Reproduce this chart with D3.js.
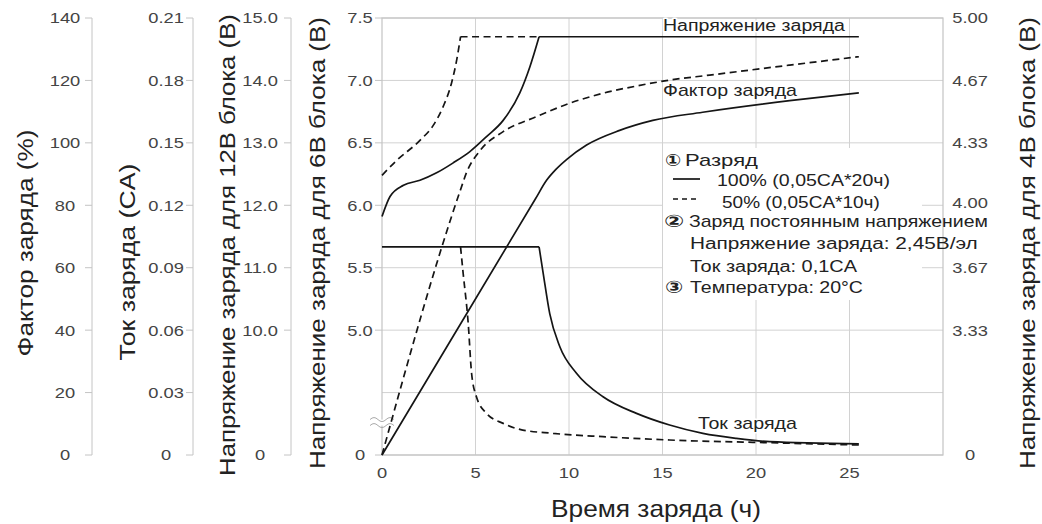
<!DOCTYPE html>
<html><head><meta charset="utf-8">
<script src="https://cdn.jsdelivr.net/npm/d3@7"></script>
<style>
body{margin:0;background:#fff}
svg{display:block}
text{font-family:"Liberation Sans",Arial,Helvetica,sans-serif;fill:#222}
</style>
</head><body>
<svg id="c" width="1042" height="524"></svg>
<script>
// ---------------- data ----------------
const timeTicks = [0, 5, 10, 15, 20, 25];
const factorTicks = [0, 20, 40, 60, 80, 100, 120, 140];
const currentTicks = [0, 0.03, 0.06, 0.09, 0.12, 0.15, 0.18, 0.21];
const currentTickLabels = ["0", "0.03", "0.06", "0.09", "0.12", "0.15", "0.18", "0.21"];
const v12Ticks = [0, 10, 11, 12, 13, 14, 15];
const v12TickLabels = ["0", "10.0", "11.0", "12.0", "13.0", "14.0", "15.0"];
const v6Ticks = [0, 5.0, 5.5, 6.0, 6.5, 7.0, 7.5];
const v6TickLabels = ["0", "5.0", "5.5", "6.0", "6.5", "7.0", "7.5"];
const v4Ticks = [0, 10 / 3, 11 / 3, 4, 13 / 3, 14 / 3, 5];
const v4TickLabels = ["0", "3.33", "3.67", "4.00", "4.33", "4.67", "5.00"];

const chargeVoltage = 7.35;   // 6V block, 2.45 V/cell
const chargeCurrent = 0.1;    // CA
const endHour = 25.5;

// charge voltage (6V block), rising part
const voltFullHours = [0, 0.43, 1.15, 2.03, 2.92, 3.81, 4.70, 5.59, 6.48, 7.37, 7.91, 8.40];
const voltFullValues = [5.91, 6.07, 6.16, 6.20, 6.26, 6.34, 6.43, 6.55, 6.68, 6.90, 7.11, 7.35];
const voltHalfHours = [0, 0.79, 2.03, 2.74, 3.27, 3.72, 3.99, 4.20];
const voltHalfValues = [6.24, 6.36, 6.52, 6.64, 6.79, 6.98, 7.16, 7.35];

// charge factor (%)
const factorFullHours = [0, 8.2, 8.8, 9.3, 9.9, 10.94, 12.71, 14.48, 17.15, 21.8, 25.5];
const factorFullValues = [0, 82.0, 88.0, 91.5, 94.8, 99.3, 104.0, 107.2, 109.8, 113.5, 116.0];
const factorHalfHours = [0, 4.2, 4.52, 5.24, 6.48, 8.26, 10.04, 11.82, 13.6, 15.38, 17.52, 21.8, 25.5];
const factorHalfValues = [0, 85.0, 90.5, 97.5, 103.6, 108.4, 112.7, 115.9, 118.2, 120.1, 121.7, 124.9, 127.6];

// charge current (CA), decay part after constant current phase
const currentFullHours = [8.4, 8.62, 8.97, 9.51, 10.40, 11.82, 13.61, 15.38, 17.16, 18.95, 20.73, 25.5];
const currentFullValues = [0.1, 0.0873, 0.0679, 0.052, 0.0393, 0.028, 0.020, 0.0144, 0.0104, 0.008, 0.0064, 0.0053];
const currentHalfHours = [4.2, 4.34, 4.61, 4.79, 5.05, 5.59, 6.48, 7.37, 9.15, 11.82, 15.38, 20.73, 25.5];
const currentHalfValues = [0.1, 0.0873, 0.0633, 0.0393, 0.028, 0.020, 0.0152, 0.0123, 0.0104, 0.0088, 0.0072, 0.0059, 0.0048];

// ---------------- layout ----------------
const svg = d3.select('#c');
const X0 = 382, X1 = 943, Y0 = 455, Y1 = 18;
const x = d3.scaleLinear().domain([0, 30]).range([X0, X1]);
const yF = d3.scaleLinear().domain([0, 140]).range([Y0, Y1]);
const yI = d3.scaleLinear().domain([0, 0.21]).range([Y0, Y1]);
const yB = yF(40);
const yV12 = d3.scaleLinear().domain([0, 10, 15]).range([Y0, yB, Y1]);
const yV6 = d3.scaleLinear().domain([0, 5, 7.5]).range([Y0, yB, Y1]);
const yV4 = d3.scaleLinear().domain([0, 10 / 3, 5]).range([Y0, yB, Y1]);

const GRID = '#d2d2d2', AXIS = '#c4c4c4', INK = '#151515', TICKC = '#444';

function addText(p, str, px, py, o) {
  const t = p.append('text').text(str).attr('font-size', o.size)
    .attr('text-anchor', o.anchor || 'start');
  if (o.dy) t.attr('dy', o.dy);
  if (o.family) t.style('font-family', o.family);
  if (o.weight) t.attr('font-weight', o.weight);
  if (o.fill) t.style('fill', o.fill);
  if (o.halo) t.attr('stroke', '#fff').attr('stroke-width', o.halo).attr('paint-order', 'stroke').attr('stroke-linejoin', 'round');
  let k = o.k || 1;
  if (o.width) k = o.width / t.node().getComputedTextLength();
  t.attr('transform', `translate(${px},${py})` + (o.rotate ? ` rotate(${o.rotate})` : '') + ` scale(${k},1)`);
  return t;
}

// grid
const grid = svg.append('g');
grid.selectAll('line.h').data(factorTicks).join('line')
  .attr('x1', X0).attr('x2', X1).attr('y1', d => yF(d)).attr('y2', d => yF(d))
  .attr('stroke', GRID).attr('stroke-width', 1);
grid.selectAll('line.v').data(timeTicks.filter(d => d > 0)).join('line')
  .attr('x1', d => x(d)).attr('x2', d => x(d)).attr('y1', Y1).attr('y2', Y0)
  .attr('stroke', GRID).attr('stroke-width', 1);
svg.append('rect').attr('x', X0).attr('y', Y1).attr('width', X1 - X0).attr('height', Y0 - Y1)
  .attr('fill', 'none').attr('stroke', AXIS).attr('stroke-width', 1.2);

// break mark on the voltage axis
const brY = (yB + Y0) / 2 + 30;
svg.append('rect').attr('x', X0 - 3).attr('y', brY - 3).attr('width', 6).attr('height', 6).attr('fill', '#fff');
[brY - 3, brY + 3].forEach(yy => {
  svg.append('path').attr('d', `M${X0 - 12},${yy} q4,-4 8,0 t8,0 t8,0`)
    .attr('fill', 'none').attr('stroke', '#aaa').attr('stroke-width', 1);
});

// left axes
const TK = 15, KS = 1.22;
function leftAxis(lineX, labelX, scale, vals, labels, drawLine) {
  const g = svg.append('g');
  if (drawLine) g.append('line').attr('x1', lineX).attr('x2', lineX).attr('y1', Y1).attr('y2', Y0)
    .attr('stroke', AXIS).attr('stroke-width', 1);
  vals.forEach((v, i) => {
    const yy = scale(v);
    g.append('line').attr('x1', lineX - 7).attr('x2', lineX).attr('y1', yy).attr('y2', yy)
      .attr('stroke', AXIS).attr('stroke-width', 1);
    addText(g, labels[i], labelX, yy, {size: TK, anchor: 'middle', dy: '0.36em', k: KS, fill: TICKC});
  });
}
leftAxis(92, 65, yF, factorTicks, factorTicks.map(String), true);
leftAxis(193, 166, yI, currentTicks, currentTickLabels, true);
leftAxis(291, 260, yV12, v12Ticks, v12TickLabels, true);
leftAxis(X0, 360, yV6, v6Ticks, v6TickLabels, false);

// right axis labels
v4Ticks.forEach((v, i) => {
  addText(svg, v4TickLabels[i], 970, yV4(v) + (v === 4 ? -3 : 0), {size: TK, anchor: 'middle', dy: '0.36em', k: KS, fill: TICKC});
});

// x axis labels
timeTicks.forEach(t => {
  addText(svg, String(t), x(t), 478, {size: TK, anchor: 'middle', k: KS, fill: TICKC});
});

// axis titles
const TT = 22;
addText(svg, 'Фактор заряда (%)', 25, 243, {size: TT, anchor: 'middle', rotate: -90, dy: '0.35em', width: 227});
addText(svg, 'Ток заряда (CA)', 127, 262, {size: TT, anchor: 'middle', rotate: -90, dy: '0.35em', width: 197});
addText(svg, 'Напряжение заряда для 12В блока (В)', 227, 245, {size: TT, anchor: 'middle', rotate: -90, dy: '0.35em', width: 462});
addText(svg, 'Напряжение заряда для 6В блока (В)', 317, 243, {size: TT, anchor: 'middle', rotate: -90, dy: '0.35em', width: 452});
addText(svg, 'Напряжение заряда для 4В блока (В)', 1027, 243, {size: TT, anchor: 'middle', rotate: -90, dy: '0.35em', width: 452});
addText(svg, 'Время заряда (ч)', 656, 517, {size: 24, anchor: 'middle', width: 210});

// legend box (white, hides grid)
svg.append('rect').attr('x', 663).attr('y', 148).attr('width', 259).attr('height', 152).attr('fill', '#fff');

// ---------------- curves ----------------
const curves = svg.append('g').attr('fill', 'none').attr('stroke', INK).attr('stroke-width', 1.7);
const DASH = '7,4.5';
const mono = d3.line().curve(d3.curveMonotoneX);
function zipPts(hs, vs, ys) { return hs.map((h, i) => [x(h), ys(vs[i])]); }

// voltage
curves.append('path').attr('d', mono(zipPts(voltFullHours, voltFullValues, yV6)));
curves.append('path').attr('d', d3.line()([[x(8.4), yV6(chargeVoltage)], [x(endHour), yV6(chargeVoltage)]]));
curves.append('path').attr('stroke-dasharray', DASH).attr('d', mono(zipPts(voltHalfHours, voltHalfValues, yV6)));
curves.append('path').attr('stroke-dasharray', DASH).attr('d', d3.line()([[x(4.2), yV6(chargeVoltage)], [x(8.4), yV6(chargeVoltage)]]));

// charge factor
curves.append('path').attr('d', mono(zipPts(factorFullHours, factorFullValues, yF)));
curves.append('path').attr('stroke-dasharray', DASH).attr('d', mono(zipPts(factorHalfHours, factorHalfValues, yF)));

// current
curves.append('path').attr('d', d3.line()([[x(0), yI(chargeCurrent)], [x(8.4), yI(chargeCurrent)]]));
curves.append('path').attr('d', mono(zipPts(currentFullHours, currentFullValues, yI)));
curves.append('path').attr('stroke-dasharray', DASH).attr('d', mono(zipPts(currentHalfHours, currentHalfValues, yI)));

// ---------------- labels ----------------
const LS = 16;
addText(svg, 'Напряжение заряда', 663, 31, {size: LS, width: 182, halo: 3});
addText(svg, 'Фактор заряда', 663, 96, {size: LS, width: 134});
addText(svg, 'Ток заряда', 698, 429, {size: LS, width: 99, halo: 3});

// legend
const CIRC = '"DejaVu Sans","Noto Sans CJK JP",sans-serif';
addText(svg, '①', 665, 166, {size: 17, family: CIRC, weight: 'bold', width: 16});
addText(svg, 'Разряд', 685, 166, {size: LS, width: 73});
svg.append('line').attr('x1', 673).attr('x2', 700).attr('y1', 179).attr('y2', 179).attr('stroke', INK).attr('stroke-width', 1.7);
addText(svg, '100% (0,05CA*20ч)', 717, 186, {size: LS, width: 173});
svg.append('line').attr('x1', 673).attr('x2', 700).attr('y1', 199).attr('y2', 199).attr('stroke', INK).attr('stroke-width', 1.7).attr('stroke-dasharray', '5,4');
addText(svg, '50% (0,05CA*10ч)', 722, 208, {size: LS, width: 158});
addText(svg, '②', 664, 227, {size: 17, family: CIRC, weight: 'bold', width: 20});
addText(svg, 'Заряд постоянным напряжением', 689, 227, {size: LS, width: 299});
addText(svg, 'Напряжение заряда: 2,45В/эл', 690, 249, {size: LS, width: 288});
addText(svg, 'Ток заряда: 0,1CA', 690, 272, {size: LS, width: 167});
addText(svg, '③', 665, 293, {size: 17, family: CIRC, weight: 'bold', width: 18});
addText(svg, 'Температура: 20°C', 690, 293, {size: LS, width: 173});
</script>
</body></html>
